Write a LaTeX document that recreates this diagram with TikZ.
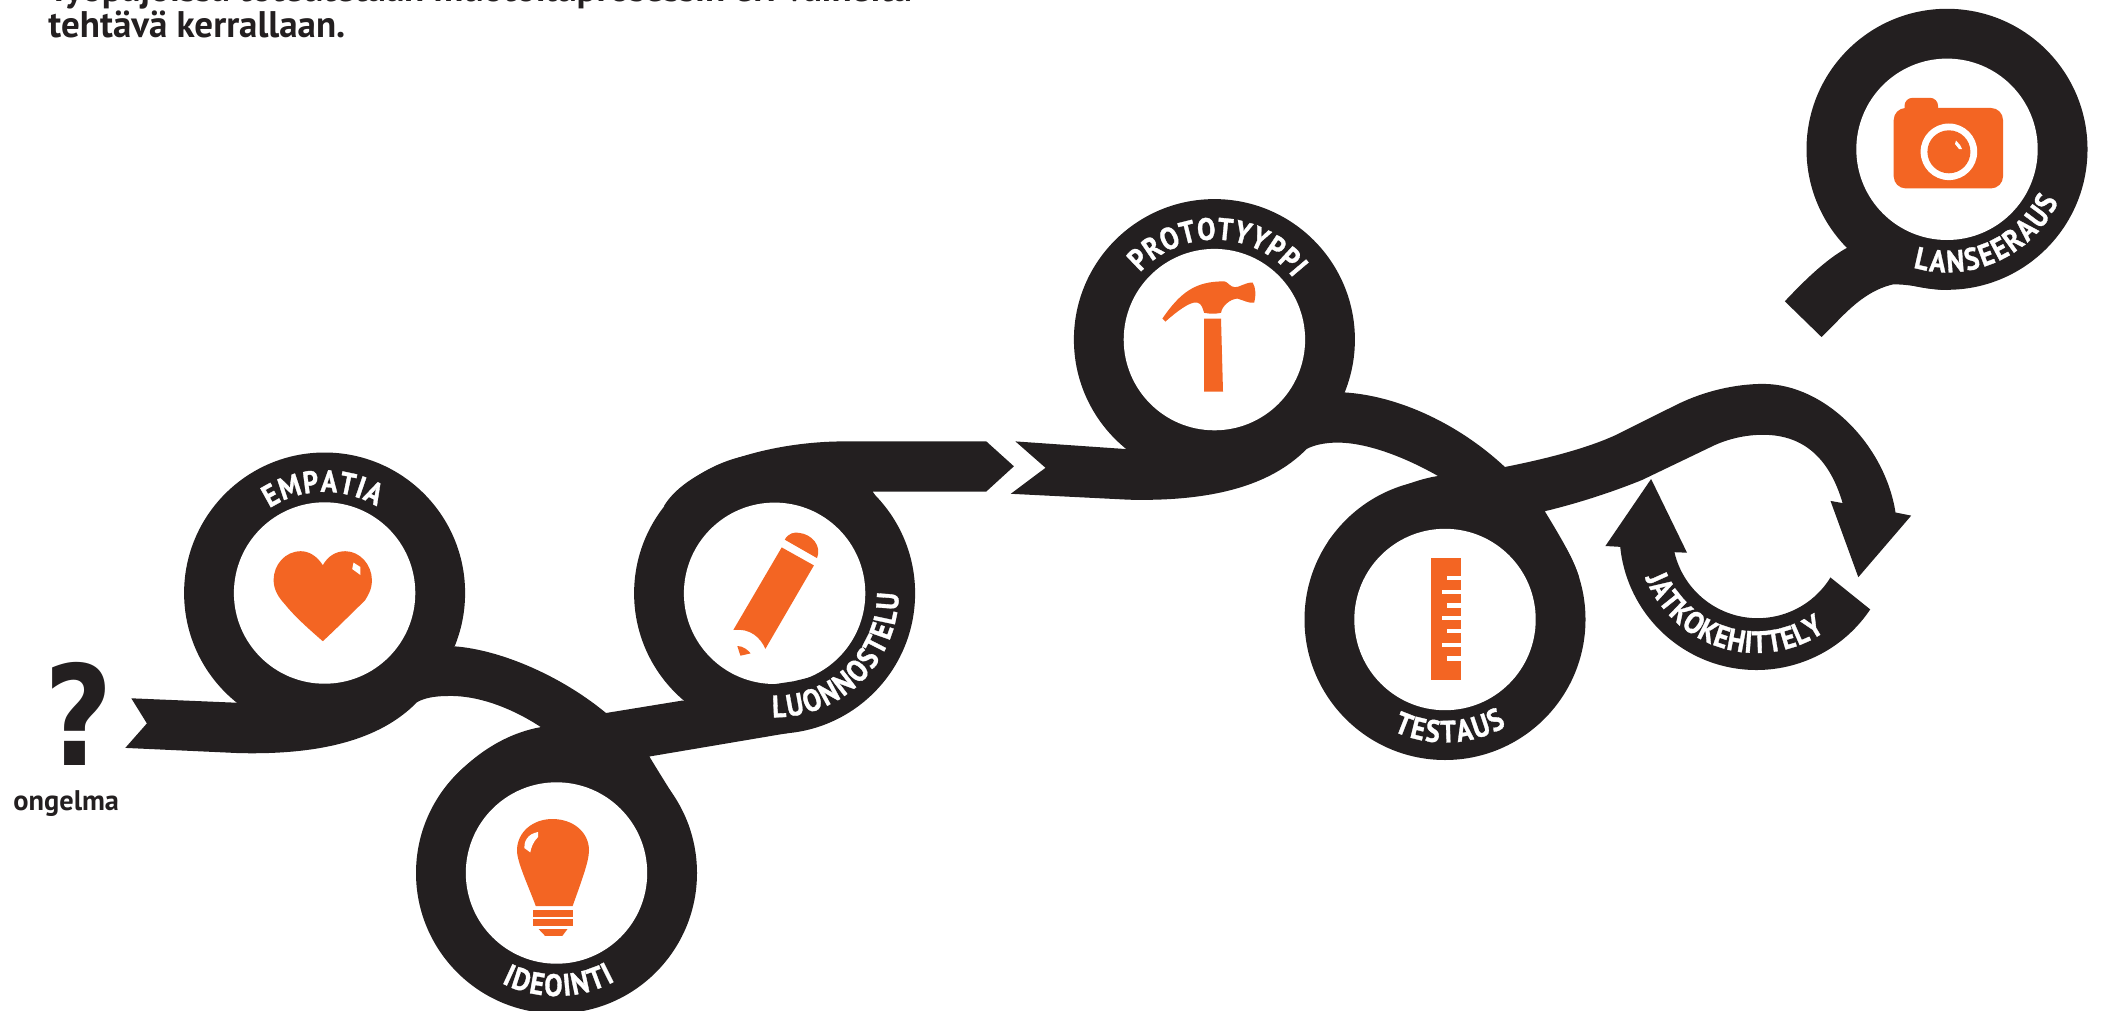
\documentclass[tikz,border=0pt]{standalone}
\usepackage{fontspec}
\usetikzlibrary{decorations.text}
\newfontfamily\lbl{PT Sans}
\newfontfamily\arcf{PT Sans}[BoldFeatures={FakeStretch=0.88,FakeBold=1}]
\newfontfamily\qfont{DejaVu Sans}
\definecolor{ink}{HTML}{231F20}
\definecolor{org}{HTML}{F36523}
\newcommand{\arcfont}{\arcf\bfseries\fontsize{15.5}{15.5}\selectfont}
% centre, radius, start angle, end angle, text
\newcommand{\arctext}[5]{%
  \path[decorate,decoration={text along path,text color=white,text align={fit to path},
    text={|\arcfont|#5}}]
    ([shift={(#1)}]#3:#2) arc[start angle=#3,end angle=#4,radius=#2];}
\tikzset{
  ribbon/.style={fill=ink,draw=none},
  icon/.style={fill=org,draw=none},
  gap/.style={fill=white,draw=none},
  heading/.style={anchor=base west,inner sep=0pt,text=ink,font=\lbl\bfseries\fontsize{18.5}{18.5}\selectfont},
}
\newcommand{\ring}[1]{\fill[ink] (#1) circle[radius=140.5];\fill[white] (#1) circle[radius=90.7];}
\begin{document}
\begin{tikzpicture}[x=0.5pt,y=0.5pt]
\useasboundingbox (0,0) rectangle (2103,-1011);
\clip (0,0) rectangle (2103,-1011);
\fill[white] (0,0) rectangle (2103,-1011);
\coordinate (empatia) at (324.6,-593);
\coordinate (ideointi) at (556.5,-873);
\coordinate (luonn) at (774.6,-593.3);
\coordinate (proto) at (1214.4,-339.6);
\coordinate (testaus) at (1445,-619.5);
\coordinate (lans) at (1947,-149.3);
\coordinate (jatko) at (1756.5,-533);
% ribbon 1
\fill[ribbon] (131.3,-698.3) -- (236,-702.7) -- (455.5,-646.4)
  .. controls (500,-650) and (560,-675) .. (606,-713) -- (682.7,-700.5) -- (788.4,-733) -- (649.4,-756.5)
  .. controls (665,-783) and (683,-808) .. (690,-830) -- (556,-873) -- (440,-795)
  .. controls (449,-781) and (485,-737) .. (540.9,-727.1)
  .. controls (515,-710) and (480,-695) .. (447.7,-696)
  .. controls (435,-696) and (424,-698) .. (416.9,-702.3)
  .. controls (380,-740) and (320,-755) .. (238.8,-753.1) -- (125.3,-747.9) -- (146.9,-723.4) -- cycle;
% ribbon 3
\fill[ribbon] (986.3,-441.4) -- (1013.9,-466.3) -- (986.3,-491.5) -- (872.6,-491.5)
  .. controls (885,-510) and (894,-528) .. (900,-530) -- (774,-593) -- (664,-506)
  .. controls (688,-466) and (770,-441.4) .. (844.5,-441.4) -- cycle;
% ribbon 2
\fill[ribbon] (1015.4,-441.4) -- (1125.1,-449) -- (1344.5,-392.4)
  .. controls (1400,-396) and (1460,-425) .. (1504.9,-467)
  .. controls (1545,-459) and (1585,-449) .. (1615.2,-435.3)
  -- (1678,-404)
  .. controls (1705,-391) and (1735,-384) .. (1763.2,-383.9)
  .. controls (1825,-384) and (1885,-445) .. (1895.5,-512.5)
  -- (1911.2,-515.6) -- (1858.3,-577.2) -- (1830.5,-500.9) -- (1842.6,-503.1)
  .. controls (1830,-460) and (1805,-434.8) .. (1763.2,-434.8)
  .. controls (1745,-434.8) and (1728,-439) .. (1713.9,-445.5)
  -- (1642.2,-479.9)
  .. controls (1610,-493) and (1575,-504) .. (1544.8,-511.2)
  .. controls (1556,-530) and (1572,-555) .. (1579,-577) -- (1445,-619.5) -- (1328.5,-541)
  .. controls (1338,-527) and (1385,-484) .. (1438,-476)
  .. controls (1410,-460) and (1370,-442.6) .. (1337.5,-442.6)
  .. controls (1325,-442.6) and (1314,-445) .. (1306.7,-448.9)
  .. controls (1269.8,-486.6) and (1209.8,-501.6) .. (1128.6,-499.7)
  -- (1010.8,-493.8) -- (1045.5,-467.8) -- cycle;
% lanseeraus tail
\fill[ribbon] (1847,-247.8) .. controls (1825,-260) and (1803,-282) .. (1784.8,-301.3)
  -- (1821.5,-337) .. controls (1840,-320) and (1860,-292) .. (1893,-284.4)
  .. controls (1912,-284) and (1930,-290) .. (1947,-290) -- cycle;
% rings
\ring{empatia}\ring{ideointi}\ring{luonn}\ring{proto}\ring{testaus}\ring{lans}
\fill[ribbon] (773,-684.4) -- (793.5,-681.3) -- (813.9,-676.4) -- (821.5,-671.8) -- (815,-700) -- (773,-700) -- cycle;
% jatkokehittely arrow
\fill[ribbon] ([shift={(jatko)}]-33.9:137) arc[start angle=-33.9,end angle=-174.2,radius=137]
  -- (1605.4,-546) -- (1651.1,-479) -- (1687,-552.7) -- (1674.4,-552.2)
  arc[start angle=-166.8,end angle=-31.6,radius=85.5] -- cycle;
% texts on rings
\arctext{empatia}{101}{123}{59}{EMPATIA}
\arctext{ideointi}{123}{243.5}{298.5}{IDEOINTI}
\arctext{luonn}{124}{269}{360}{LUONNOSTELU}
\arctext{proto}{100}{138}{38}{PROTOTYYPPI}
\arctext{testaus}{123}{245}{300}{TESTAUS}
\arctext{lans}{123}{254}{335}{LANSEERAUS}
\arctext{jatko}{120}{202}{305}{JATKOKEHITTELY}
% heart
\fill[icon] (322.8,-565.2) .. controls (317,-556) and (309,-551.2) .. (300.7,-551.2)
  .. controls (285,-551.2) and (273.6,-565) .. (273.6,-580)
  .. controls (273.6,-590) and (279,-598) .. (284.7,-604)
  .. controls (295,-617) and (310,-630) .. (322.8,-641.2)
  .. controls (335,-630) and (352,-613) .. (365,-600.4)
  .. controls (368,-595) and (371.9,-590) .. (371.9,-580)
  .. controls (371.9,-565) and (360,-551.2) .. (345.3,-551.2)
  .. controls (336,-551.2) and (328,-556) .. (322.8,-565.2) -- cycle;
\fill[gap] (353.5,-562.6) -- (360.4,-567) -- (360.4,-575) -- (352.2,-569) -- cycle;
% bulb
\fill[icon] (535.8,-906.1) .. controls (528,-885) and (517,-862) .. (517,-850.5)
  .. controls (517,-832) and (533,-819) .. (552.3,-819)
  .. controls (573,-819) and (589,-832) .. (589,-850.5)
  .. controls (589,-862) and (580,-885) .. (572.6,-906.1) -- cycle;
\fill[gap] (538,-832) -- (538,-837) .. controls (533,-842) and (531,-848) .. (530.3,-852.4)
  -- (524.3,-848) .. controls (524,-842) and (527,-834) .. (538,-832) -- cycle;
\fill[icon] (533,-909.8) rectangle (573,-916.5);
\fill[icon] (533,-919) rectangle (573,-925.7);
\fill[icon] (538.6,-929) -- (567.5,-929) -- (562.4,-935.8) -- (545,-935.8) -- cycle;
% pencil
\fill[icon] (781.7,-547.4) -- (813.9,-565.4) -- (765.4,-648.8)
  .. controls (760,-637) and (750,-628) .. (733.3,-630) -- cycle;
\fill[icon] (784.8,-539.7) .. controls (788,-533) and (795,-532) .. (798.6,-532.8)
  .. controls (812,-534) and (822,-546) .. (817,-558.1) -- cycle;
\fill[icon] (737.3,-646) .. controls (743,-646) and (748,-650) .. (750.6,-653.4) -- (740.4,-655.7) -- cycle;
% hammer
\fill[icon] (1162.4,-318.5) -- (1165.4,-321.6) .. controls (1175,-313) and (1190,-301) .. (1197,-302.5)
  .. controls (1202,-303) and (1203,-310) .. (1204.1,-312.8)
  .. controls (1210,-314) and (1216,-314) .. (1221,-312.8)
  .. controls (1222,-306) and (1230,-299) .. (1237.3,-298.6)
  .. controls (1243,-300) and (1250,-304) .. (1254.2,-302.5)
  .. controls (1256,-296) and (1256,-288) .. (1252.7,-282.6)
  .. controls (1246,-282) and (1238,-288) .. (1234.8,-287.2)
  .. controls (1230,-287) and (1228,-282) .. (1224.5,-281.4)
  .. controls (1195,-281) and (1180,-293) .. (1162.4,-318.5) -- cycle;
\fill[icon] (1204.1,-318.5) -- (1221,-318.5) -- (1223,-391.6) -- (1204.1,-391.6) -- cycle;
% ruler
\fill[icon] (1431,-558) rectangle (1461,-680);
\foreach \ya/\yb/\xs in {576/580/1447,589.5/594/1442,603/607.5/1447,615.5/620/1442,628.5/633/1447,643/647/1442,656/661/1447}{
  \fill[gap] (\xs,-\ya) rectangle (1462,-\yb);}
% camera
\fill[icon,rounded corners=6pt] (1893.7,-188.4) rectangle (2003,-108);
\fill[icon,rounded corners=4pt] (1904.5,-120) rectangle (1938,-97.8);
\fill[gap] (1948.9,-151.8) circle[radius=28.3];
\fill[icon] (1948.9,-151.8) circle[radius=21.5];
\fill[gap] (1956,-140.5) -- (1960,-145) -- (1962,-149) -- (1959,-149) -- (1955,-144) -- cycle;
% question mark and labels
\node[anchor=base,inner sep=0pt,text=ink,font=\qfont\bfseries\fontsize{69.5}{69.5}\selectfont] (qmark) at (79,-765) {\scalebox{0.85}[1]{?}};
\node[anchor=base west,inner sep=0pt,text=ink,font=\lbl\bfseries\fontsize{14.2}{14.2}\selectfont] (ongelma) at (13,-810) {ongelma};
\node[heading] (line1) at (48,-2) {Työpajoissa toteutetaan muotoiluprosessin eri vaiheita};
\node[heading] (line2) at (48,-37.5) {tehtävä kerrallaan.};
\end{tikzpicture}
\end{document}
